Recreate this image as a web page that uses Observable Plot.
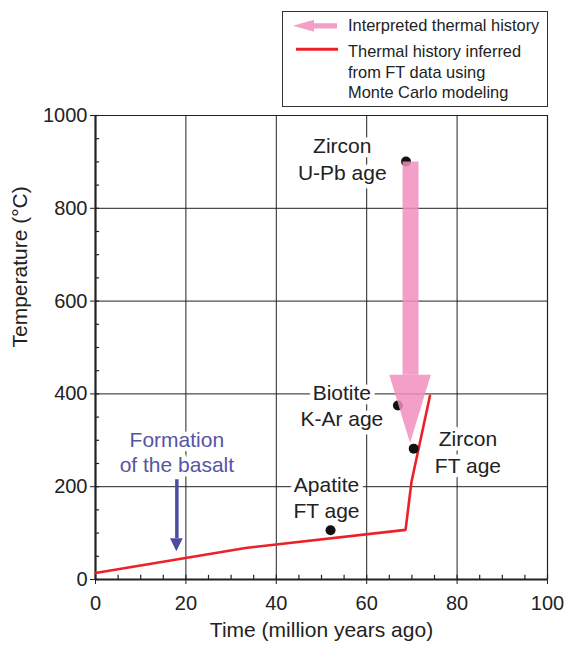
<!DOCTYPE html>
<html>
<head>
<meta charset="utf-8">
<script src="https://cdn.jsdelivr.net/npm/d3@7"></script>
<script src="https://cdn.jsdelivr.net/npm/@observablehq/plot@0.6"></script>
<style>
  body { margin: 0; background: #fff; font-family: "Liberation Sans", Arial, Helvetica, sans-serif; }
  #wrap { position: relative; width: 564px; height: 646px; }
  #head { position: relative; height: 100px; }
  #legend { position: absolute; left: 281.5px; top: 10.5px; width: 266.5px; height: 96.5px;
            border: 1.2px solid #333; box-sizing: border-box; z-index: 2; background: #fff; }
  #legend svg { position: absolute; left: 0; top: 0; overflow: visible; }
  #legend text { font-family: "Liberation Sans", Arial, Helvetica, sans-serif; font-size: 16.4px; fill: #222; }
</style>
</head>
<body>
<div id="wrap">
  <div id="head">
    <div id="legend">
      <svg width="266" height="96">
        <polygon points="10,13.8 31,7.8 31,11.2 54,11.2 54,16.4 31,16.4 31,19.8" fill="#f18ebe" fill-opacity="0.85"></polygon>
        <line x1="13" y1="37.3" x2="55" y2="37.3" stroke="#ee2027" stroke-width="3"></line>
        <text x="65" y="19.2">Interpreted thermal history</text>
        <text x="65" y="45.4">Thermal history inferred</text>
        <text x="65" y="65.8">from FT data using</text>
        <text x="65" y="86.2">Monte Carlo modeling</text>
      </svg>
    </div>
  </div>
  <div id="chart"></div>
</div>
<script>
// ---- data ----
const xTicks = [0, 20, 40, 60, 80, 100];
const yTicks = [0, 200, 400, 600, 800, 1000];
const xGrid = [20, 40, 60, 80];
const yGrid = [200, 400, 600, 800];
const xMinor = d3.range(0, 101, 5);
const yMinor = d3.range(0, 1001, 50);

// Thermal history inferred from FT data (Monte Carlo)
const ftTime = [0, 33.2, 68.6, 69.9, 74.0];
const ftTemp = [14, 68, 107, 210, 396];

// Age data points
const ageName = ["Zircon U-Pb", "Biotite K-Ar", "Zircon FT", "Apatite FT"];
const ageTime = [68.7, 66.9, 70.4, 52.0];
const ageTemp = [901, 375, 282, 106];

// Labels
const labelText = ["Zircon\nU-Pb age", "Biotite\nK-Ar age", "Zircon\nFT age", "Apatite\nFT age"];
const labelTime = [54.6, 54.5, 82.4, 51.1];
const labelTemp = [908, 377, 277, 179];

const basaltText = "Formation\nof the basalt";
const basaltTime = 18.0;
const basaltTemp = 276;

// Interpreted thermal history arrow (pink)
const pinkTime = 69.7;
const pinkTemp = [900, 440, 293];   // shaft top, head base, tip
const pinkHalfHead = 4.6;

// Formation of the basalt arrow (blue)
const blueTime = 18.0;
const blueTemp = [215, 88, 60];     // shaft top, head base, tip
const blueHalfHead = 1.4;

// ---- derived tables ----
const ftData = ftTime.map((t, i) => ({t, T: ftTemp[i]}));
const ages = ageName.map((n, i) => ({n, t: ageTime[i], T: ageTemp[i]}));
const labels = labelText.map((s, i) => ({s, t: labelTime[i], T: labelTemp[i]}));
const pinkHead = [
  {T: pinkTemp[1], x1: pinkTime - pinkHalfHead, x2: pinkTime + pinkHalfHead},
  {T: pinkTemp[2], x1: pinkTime, x2: pinkTime}
];
const blueHead = [
  {T: blueTemp[1], x1: blueTime - blueHalfHead, x2: blueTime + blueHalfHead},
  {T: blueTemp[2], x1: blueTime, x2: blueTime}
];

const ink = "#222";
const pink = "#f18ebe";
const blue = "#4d4d9f";
const red = "#ee2027";

const chart = Plot.plot({
  width: 564,
  height: 546,
  marginTop: 15,
  marginBottom: 67,
  marginLeft: 95,
  marginRight: 17,
  style: {fontFamily: "'Liberation Sans', Arial, Helvetica, sans-serif", fontSize: "20px", color: ink, overflow: "visible", background: "transparent"},
  x: {domain: [0, 100], ticks: xTicks, tickSize: 5, tickPadding: 11, tickFormat: d => String(d), label: null},
  y: {domain: [0, 1000], ticks: yTicks, tickSize: 5, tickPadding: 3, tickFormat: d => String(d), label: null},
  marks: [
    // grid
    Plot.ruleX(xGrid, {stroke: ink, strokeWidth: 1}),
    Plot.ruleY(yGrid, {stroke: ink, strokeWidth: 1}),
    // minor ticks (inside)
    Plot.ruleX(xMinor, {y1: 0, y2: 9, stroke: ink, strokeWidth: 1.2}),
    Plot.ruleY(yMinor, {x1: 0, x2: 0.9, stroke: ink, strokeWidth: 1.2}),
    // frame
    Plot.ruleX([100], {stroke: ink, strokeWidth: 1.2}),
    Plot.ruleY([1000], {stroke: ink, strokeWidth: 1.2}),
    Plot.ruleX([0], {stroke: ink, strokeWidth: 2.2}),
    Plot.ruleY([0], {stroke: ink, strokeWidth: 2.2}),
    // labels with white halo breaking the grid
    Plot.text(labels, {x: "t", y: "T", text: "s", fontSize: 21, lineHeight: 1.27, fill: ink, stroke: "white", strokeWidth: 9}),
    Plot.text([basaltText], {x: () => basaltTime, y: () => basaltTemp, text: d => d, fontSize: 21, lineHeight: 1.2, fill: "#5555a6", stroke: "white", strokeWidth: 9}),
    // blue arrow
    Plot.ruleX([blueTime], {y1: blueTemp[0], y2: blueTemp[1], stroke: blue, strokeWidth: 3.5}),
    Plot.areaX(blueHead, {y: "T", x1: "x1", x2: "x2", fill: blue}),
    // FT thermal history line
    Plot.line(ftData, {x: "t", y: "T", stroke: red, strokeWidth: 2.6, strokeLinejoin: "miter"}),
    // age points
    Plot.dot(ages, {x: "t", y: "T", r: 5, fill: "#111", stroke: "none"}),
    // pink interpreted arrow
    Plot.ruleX([pinkTime], {y1: pinkTemp[0], y2: pinkTemp[1], stroke: pink, strokeOpacity: 0.85, strokeWidth: 16}),
    Plot.areaX(pinkHead, {y: "T", x1: "x1", x2: "x2", fill: pink, fillOpacity: 0.85}),
    // axis titles
    Plot.text(["Time (million years ago)"], {frameAnchor: "bottom", dy: 57, text: d => d, fontSize: 21, fill: ink}),
    Plot.text(["Temperature (°C)"], {frameAnchor: "left", dx: -75, rotate: -90, text: d => d, fontSize: 21, fill: ink})
  ]
});
document.getElementById("chart").appendChild(chart);
</script>
</body>
</html>
